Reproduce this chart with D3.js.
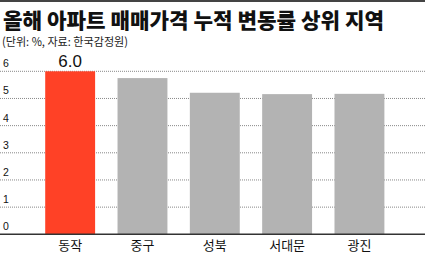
<!DOCTYPE html>
<html>
<head>
<meta charset="utf-8">
<script src="https://cdn.jsdelivr.net/npm/d3@7"></script>
<style>
  body { margin: 0; background: #fff; }
  svg { display: block; font-family: "Noto Sans CJK KR", "Noto Sans", sans-serif; }
</style>
</head>
<body>
<div id="chart"></div>
<script>
const regions = ["동작", "중구", "성북", "서대문", "광진"];
const changes = [6.0, 5.75, 5.21, 5.16, 5.17];
const tickValues = [0, 1, 2, 3, 4, 5, 6];
const highlight = "동작";

const width = 425, height = 255;
const numFont = "Liberation Sans, Arial, sans-serif";

const svg = d3.select("#chart").append("svg")
  .attr("width", width)
  .attr("height", height);

// top rule
svg.append("rect")
  .attr("x", 0).attr("y", 0)
  .attr("width", width).attr("height", 2)
  .attr("fill", "#444");

svg.append("text")
  .attr("x", 3).attr("y", 28)
  .attr("font-size", 21)
  .attr("font-weight", 900)
  .attr("textLength", 381)
  .attr("lengthAdjust", "spacingAndGlyphs")
  .attr("fill", "#111")
  .text("올해 아파트 매매가격 누적 변동률 상위 지역");

svg.append("text")
  .attr("x", 2).attr("y", 46)
  .attr("font-size", 11.5)
  .attr("textLength", 126)
  .attr("lengthAdjust", "spacingAndGlyphs")
  .attr("fill", "#222")
  .text("(단위: %, 자료: 한국감정원)");

const x = d3.scaleBand()
  .domain(regions)
  .range([34, 395.6])
  .paddingInner(0.31)
  .paddingOuter(0.155);

const y = d3.scaleLinear()
  .domain([0, 6])
  .range([234.3, 71.3]);

// gridlines + tick labels
const grid = svg.append("g");
grid.selectAll("line")
  .data(tickValues.filter(d => d > 0))
  .join("line")
  .attr("x1", 0).attr("x2", width)
  .attr("y1", d => y(d)).attr("y2", d => y(d))
  .attr("stroke", "#888")
  .attr("stroke-width", 1)
  .attr("stroke-dasharray", "1,1");

grid.selectAll("text")
  .data(tickValues)
  .join("text")
  .attr("x", 3)
  .attr("y", d => y(d) - 4)
  .attr("font-size", 10.5)
  .attr("font-family", numFont)
  .attr("fill", "#111")
  .text(d => d);

const data = regions.map((r, i) => ({ region: r, value: changes[i] }));

svg.append("g").selectAll("rect")
  .data(data)
  .join("rect")
  .attr("x", d => x(d.region))
  .attr("y", d => y(d.value))
  .attr("width", x.bandwidth())
  .attr("height", d => y(0) - y(d.value))
  .attr("fill", d => d.region === highlight ? "#FF4126" : "#B3B3B3");

// baseline axis
const axis = svg.append("g")
  .attr("transform", `translate(0,${y(0)})`)
  .call(d3.axisBottom(x).tickSize(0).tickPadding(6));
axis.select(".domain").remove();
axis.append("line")
  .attr("x1", 0).attr("x2", width)
  .attr("stroke", "#333").attr("stroke-width", 1.5);
axis.selectAll(".tick text")
  .attr("font-size", 13)
  .attr("font-family", "Noto Sans CJK KR, sans-serif")
  .attr("fill", "#111");

// value label for highlighted bar
svg.append("g").selectAll("text")
  .data(data.filter(d => d.region === highlight))
  .join("text")
  .attr("x", d => x(d.region) + x.bandwidth() / 2)
  .attr("y", d => y(d.value) - 4)
  .attr("text-anchor", "middle")
  .attr("font-size", 17)
  .attr("font-family", numFont)
  .attr("fill", "#111")
  .text(d => d3.format(".1f")(d.value));
</script>
</body>
</html>
